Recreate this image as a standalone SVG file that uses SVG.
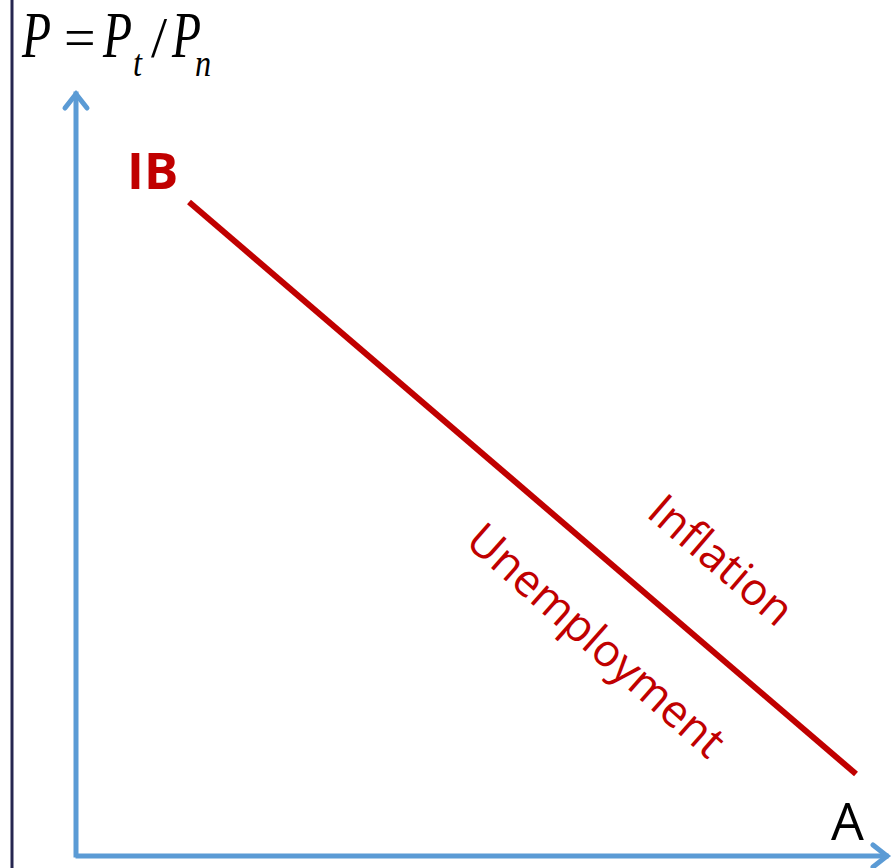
<svg xmlns="http://www.w3.org/2000/svg" width="895" height="868" viewBox="0 0 895 868">
<style>
.axis{stroke:#5b9bd5;stroke-width:5;fill:none;stroke-linecap:square}
.head{stroke:#5b9bd5;stroke-width:5;fill:none;stroke-linecap:round;stroke-linejoin:miter}
.red{fill:#c00000;font-family:"Open Sans","Noto Sans",sans-serif}
.math{font-family:"Liberation Serif","Times New Roman",serif;font-style:italic;fill:#000}
.op{font-family:"Liberation Serif","Times New Roman",serif;fill:#000}
</style>
<rect width="895" height="868" fill="#fff"/>
<line x1="12" y1="0" x2="12" y2="868" stroke="#262650" stroke-width="3"/>
<g id="connectors">
<line class="axis" x1="76" y1="855" x2="76" y2="94"/>
<polyline class="head" points="65,108 76,94 87,108"/>
<line class="axis" x1="78" y1="856" x2="886" y2="856"/>
<polyline class="head" points="873,845 887,856 873,867"/>
<line x1="189" y1="202" x2="856" y2="774" stroke="#c00000" stroke-width="6"/>
</g>
<g id="formula">
<text class="math" font-size="66" transform="translate(22,57) scale(0.72,1)">P</text>
<text class="op" x="64" y="57" font-size="56">=</text>
<text class="math" font-size="66" transform="translate(103,57) scale(0.72,1)">P</text>
<text class="math" font-size="38" transform="translate(133,76) scale(0.85,1)">t</text>
<text class="op" x="151" y="57" font-size="58">/</text>
<text class="math" font-size="66" transform="translate(172,57) scale(0.72,1)">P</text>
<text class="math" font-size="38" transform="translate(195,76) scale(0.85,1)">n</text>
</g>
<g id="IB"><text class="red" x="127" y="189" font-size="51" font-weight="bold">IB</text></g>
<g id="A"><text x="831" y="840" font-size="52" font-family="Open Sans,Noto Sans,sans-serif">A</text></g>
<g id="inflation"><text class="red" font-size="45" text-anchor="middle" transform="translate(711,572) rotate(40.6)">Inflation</text></g>
<g id="unemployment"><text class="red" font-size="45" text-anchor="middle" transform="translate(586,652) rotate(41.5)">Unemployment</text></g>
</svg>
